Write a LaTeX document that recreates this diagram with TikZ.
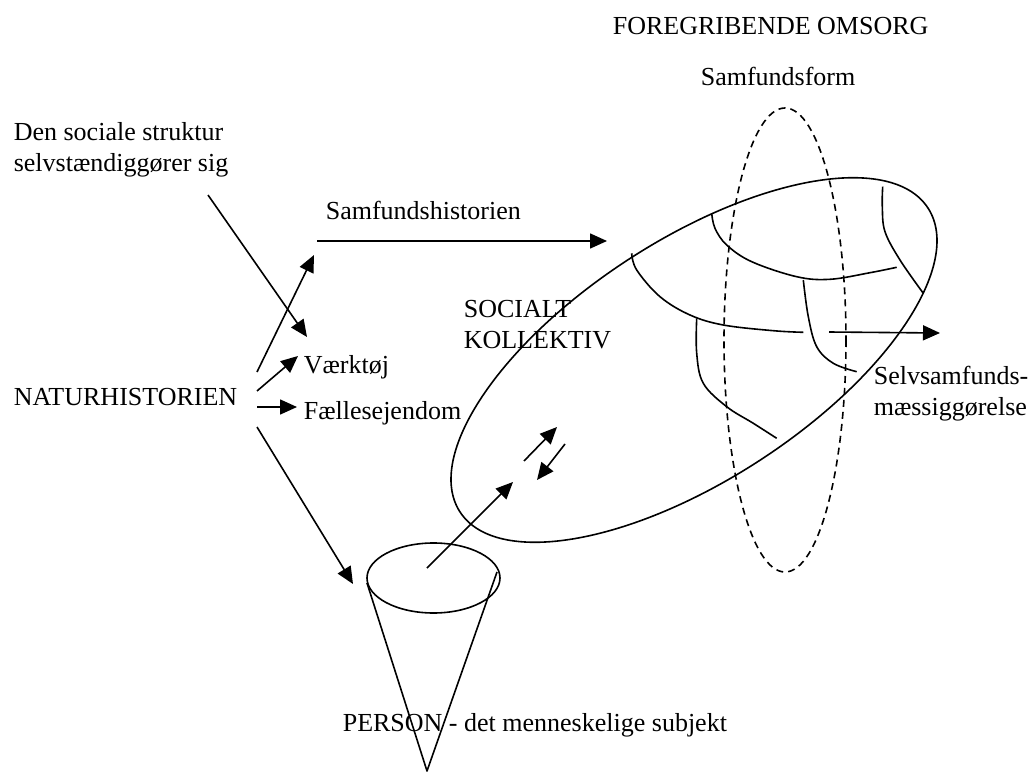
\documentclass[tikz,border=0pt]{standalone}
\usepackage{fontspec}
\setmainfont{Liberation Serif}
\usetikzlibrary{arrows.meta}
\begin{document}
\begin{tikzpicture}[x=1pt,y=-1pt, line width=1.6pt, line join=round,
  lbl/.style={anchor=base west, inner sep=0pt, font=\fontsize{26}{30}\selectfont},
  arr/.style={-{Triangle[length=17pt,width=15pt]}},
  dsh/.style={dash pattern=on 7pt off 5pt}]
\useasboundingbox (0,0) rectangle (1029,776);

% texts
\node[lbl] (omsorg) at (612,35) {FOREGRIBENDE OMSORG};
\node[lbl] (sform) at (700,85) {Samfundsform};
\node[lbl] (den1) at (13,140) {Den sociale struktur};
\node[lbl] (den2) at (13,171) {selvstændiggører sig};
\node[lbl] (shist) at (325,219) {Samfundshistorien};
\node[lbl] (soc1) at (463,317) {SOCIALT};
\node[lbl] (soc2) at (463,348) {KOLLEKTIV};
\node[lbl] (vaerk) at (303,373) {Værktøj};
\node[lbl] (natur) at (13,405) {NATURHISTORIEN};
\node[lbl] (faelles) at (303,419) {Fællesejendom};
\node[lbl] (selv1) at (873,384) {Selvsamfunds-};
\node[lbl] (selv2) at (873,415) {mæssiggørelse};
\node[lbl] (person) at (342,731) {PERSON - det menneskelige subjekt};

% coordinates
\coordinate (d0) at (208,195);  \coordinate (d1) at (307,337);
\coordinate (n1a) at (257,372); \coordinate (n1b) at (314,255);
\coordinate (n2a) at (257,391); \coordinate (n2b) at (298,356);
\coordinate (n3a) at (257,407); \coordinate (n3b) at (297,407);
\coordinate (n4a) at (257,427); \coordinate (n4b) at (353,584);
\coordinate (h0) at (317,241);  \coordinate (h1) at (607,241);
\coordinate (c0) at (427,568);  \coordinate (c1) at (513,482);
\coordinate (u0) at (524,461);  \coordinate (u1) at (557,427);
\coordinate (w0) at (565,444);  \coordinate (w1) at (537,480);
\coordinate (s0) at (829,332);  \coordinate (s1) at (940,333);
\coordinate (coneL) at (367,583); \coordinate (coneR) at (497,572);
\coordinate (apex) at (427,771);

% arrows
\draw[arr] (d0) -- (d1);
\draw[arr] (n1a) -- (n1b);
\draw[arr] (n2a) -- (n2b);
\draw[arr] (n3a) -- (n3b);
\draw[arr] (n4a) -- (n4b);
\draw[arr] (h0) -- (h1);
\draw[arr] (c0) -- (c1);
\draw[arr] (u0) -- (u1);
\draw[arr] (w0) -- (w1);
\draw[arr] (s0) -- (s1);

% social collective
\draw[shift={(694,360)}, rotate=33] (0,0) ellipse [x radius=279, y radius=120];
\draw[dsh] (785,340) ellipse [x radius=61, y radius=232];

% inner curves
\draw plot[smooth, tension=0.6] coordinates {(631.7,253.3) (636.7,270) (660,296.7) (690,315) (723.3,325) (773.3,330.7) (803.3,332.3)};
\draw plot[smooth, tension=0.6] coordinates {(711.7,213.3) (715,228.3) (726.7,245) (751.7,261.7) (796.7,276.7) (830,279.3) (870,272.7) (896.7,267.3)};
\draw plot[smooth, tension=0.6] coordinates {(882.7,186.7) (882.3,206.7) (885,231.7) (900,260) (923.3,293.3)};
\draw plot[smooth, tension=0.6] coordinates {(803.3,280) (808.3,316.7) (816.7,346.7) (833.3,363.3) (856.7,371.7)};
\draw plot[smooth, tension=0.6] coordinates {(696.7,318.3) (696.7,353.3) (703.3,383.3) (726.7,406.7) (753.3,423.3) (776.7,438.3)};

% person cone
\draw (433.5,578) ellipse [x radius=66.5, y radius=35];
\draw (coneL) -- (apex) -- (coneR);
\end{tikzpicture}
\end{document}
